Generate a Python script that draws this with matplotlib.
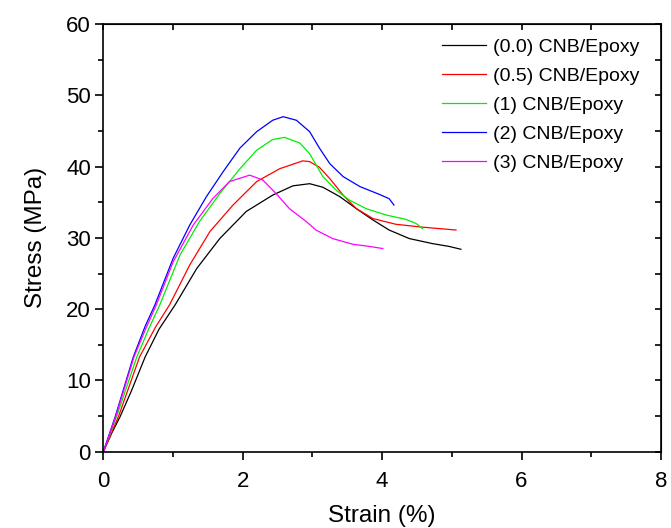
import numpy as np
import matplotlib.pyplot as plt
from matplotlib.ticker import MultipleLocator

plt.rcParams['font.family'] = ['Liberation Sans', 'DejaVu Sans']

# strain (%) / stress (MPa)
strain_00 = [0, 0.12, 0.24, 0.41, 0.60, 0.80, 1.03, 1.34, 1.67, 2.05, 2.43, 2.72, 2.96,
             3.15, 3.39, 3.63, 3.87, 4.10, 4.39, 4.72, 4.96, 5.13]
stress_00 = [0, 2.6, 4.9, 8.7, 13.3, 17.2, 20.6, 25.7, 29.9, 33.7, 36.0, 37.3, 37.6,
             37.1, 35.8, 34.1, 32.5, 31.1, 29.9, 29.2, 28.8, 28.4]

strain_05 = [0, 0.22, 0.52, 0.75, 0.95, 1.24, 1.53, 1.86, 2.20, 2.53, 2.86, 2.96, 3.10,
             3.25, 3.44, 3.63, 3.87, 4.20, 4.58, 5.06]
stress_05 = [0, 5.0, 13.3, 17.5, 20.6, 26.2, 30.9, 34.6, 37.9, 39.7, 40.8, 40.7, 39.9,
             38.3, 36.0, 34.1, 32.7, 31.9, 31.5, 31.1]

strain_1 = [0, 0.20, 0.48, 0.65, 0.81, 1.10, 1.38, 1.67, 1.96, 2.20, 2.43, 2.60, 2.82,
            2.96, 3.15, 3.34, 3.53, 3.77, 4.06, 4.34, 4.49, 4.58]
stress_1 = [0, 5.2, 13.3, 17.2, 20.6, 27.6, 32.3, 36.2, 39.7, 42.3, 43.8, 44.1, 43.3,
            41.8, 38.6, 36.7, 35.3, 34.1, 33.2, 32.6, 32.0, 31.3]

strain_2 = [0, 0.17, 0.43, 0.60, 0.74, 1.00, 1.24, 1.48, 1.72, 1.96, 2.20, 2.43, 2.58,
            2.77, 2.96, 3.10, 3.25, 3.44, 3.68, 3.96, 4.10, 4.17]
stress_2 = [0, 4.9, 13.3, 17.6, 20.6, 27.1, 31.8, 35.8, 39.3, 42.6, 44.9, 46.5, 47.0,
            46.5, 44.9, 42.6, 40.4, 38.6, 37.2, 36.1, 35.5, 34.6]

strain_3 = [0, 0.18, 0.44, 0.61, 0.76, 1.00, 1.29, 1.57, 1.81, 2.10, 2.29, 2.48, 2.67,
            2.91, 3.05, 3.29, 3.58, 3.82, 4.01]
stress_3 = [0, 5.0, 13.3, 17.3, 20.6, 26.6, 31.8, 35.5, 37.9, 38.8, 38.1, 36.2, 34.1,
            32.3, 31.1, 29.9, 29.1, 28.8, 28.5]

labels = ["(0.0) CNB/Epoxy", "(0.5) CNB/Epoxy", "(1) CNB/Epoxy", "(2) CNB/Epoxy", "(3) CNB/Epoxy"]
colors = ["black", "#ff0000", "#00ee00", "#0000ff", "#ff00ff"]

fig = plt.figure(figsize=(6.71, 5.28), dpi=100)
ax = fig.add_axes([0.154, 0.1445, 0.831, 0.81])

series = [(strain_00, stress_00), (strain_05, stress_05), (strain_1, stress_1),
          (strain_2, stress_2), (strain_3, stress_3)]
for (x, y), lab, c in zip(series, labels, colors):
    ax.plot(x, y, color=c, lw=0.9, label=lab)

ax.set_xlim(0, 8)
ax.set_ylim(0, 60)
ax.xaxis.set_major_locator(MultipleLocator(2))
ax.xaxis.set_minor_locator(MultipleLocator(1))
ax.yaxis.set_major_locator(MultipleLocator(10))
ax.yaxis.set_minor_locator(MultipleLocator(5))
ax.tick_params(which='major', direction='out', length=6, width=1.2, labelsize=16)
ax.tick_params(which='minor', direction='out', length=3.5, width=1.2)
ax.tick_params(axis='x', which='major', pad=8)
ax.tick_params(axis='y', which='major', pad=3)
for s in ax.spines.values():
    s.set_linewidth(1.2)

# mirrored ticks pointing inward on top/right
top = ax.secondary_xaxis('top')
top.xaxis.set_major_locator(MultipleLocator(1))
top.tick_params(direction='in', length=4.5, width=1.2, labeltop=False)
right = ax.secondary_yaxis('right')
right.yaxis.set_major_locator(MultipleLocator(5))
right.tick_params(direction='in', length=4.5, width=1.2, labelright=False)

ax.set_xlabel("Strain (%)", fontsize=17.5, labelpad=9)
ax.set_ylabel("Stress (MPa)", fontsize=17.5, labelpad=14)

ax.legend(loc='upper left', bbox_to_anchor=(0.607, 0.966), frameon=False,
          borderpad=0, borderaxespad=0, handlelength=2.27, handletextpad=0.36,
          labelspacing=0.58, fontsize=14)

fig.savefig("out.png", dpi=100)
